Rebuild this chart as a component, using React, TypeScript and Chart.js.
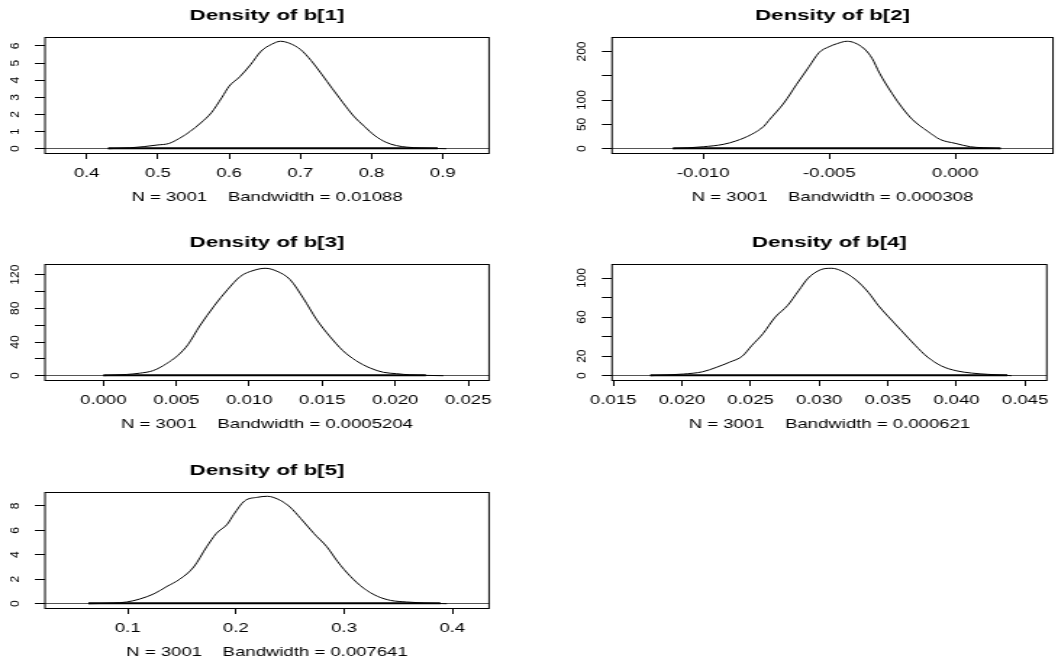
import React, { useEffect, useRef } from 'react';
import { Chart, registerables } from 'chart.js';

Chart.register(...registerables);

// ---------- data ----------
const TITLES = ['Density of b[1]', 'Density of b[2]', 'Density of b[3]', 'Density of b[4]', 'Density of b[5]'];
const XLABELS = [
  'N = 3001    Bandwidth = 0.01088',
  'N = 3001    Bandwidth = 0.000308',
  'N = 3001    Bandwidth = 0.0005204',
  'N = 3001    Bandwidth = 0.000621',
  'N = 3001    Bandwidth = 0.007641',
];

const B1_X = [0.43, 0.46, 0.48, 0.5, 0.515, 0.53, 0.545, 0.56, 0.575, 0.59, 0.6, 0.615, 0.63, 0.645, 0.66, 0.672, 0.685, 0.7, 0.715, 0.73, 0.745, 0.76, 0.775, 0.79, 0.805, 0.82, 0.835, 0.85, 0.87, 0.893, 0.905];
const B1_Y = [0.0, 0.05, 0.12, 0.22, 0.3, 0.6, 1.0, 1.5, 2.1, 3.0, 3.65, 4.2, 4.9, 5.7, 6.1, 6.27, 6.15, 5.8, 5.15, 4.35, 3.5, 2.68, 1.9, 1.3, 0.75, 0.38, 0.18, 0.09, 0.04, 0.01, 0.0];

const B2_X = [-0.0112, -0.01, -0.0092, -0.0087, -0.0081, -0.0076, -0.0074, -0.0068, -0.0063, -0.0058, -0.0054, -0.005, -0.0047, -0.0043, -0.004, -0.0036, -0.0033, -0.003, -0.0025, -0.0021, -0.0017, -0.0011, -0.0006, 0.0, 0.0006, 0.0011, 0.0018];
const B2_Y = [0, 4, 9, 16, 29, 46, 58, 94, 132, 169, 198, 210, 216, 221, 218, 205, 186, 155, 113, 84, 60, 36, 19, 11, 4, 2, 0];

const B3_X = [0.0, 0.0016, 0.0025, 0.0034, 0.0043, 0.0051, 0.0058, 0.0066, 0.0076, 0.0085, 0.0094, 0.0103, 0.0111, 0.0119, 0.0128, 0.0137, 0.0146, 0.0155, 0.0164, 0.0173, 0.0183, 0.0192, 0.0201, 0.021, 0.0221, 0.0233];
const B3_Y = [0, 1.5, 3, 6, 14, 24, 37, 59, 83, 102, 118, 125, 127.5, 124, 114, 92, 67, 47, 30, 18, 9, 4, 2.4, 1, 0.4, 0];

const B4_X = [0.0177, 0.0201, 0.0215, 0.0225, 0.0235, 0.0244, 0.0251, 0.0259, 0.0268, 0.0277, 0.0285, 0.0292, 0.0301, 0.0309, 0.0316, 0.0326, 0.0336, 0.0343, 0.035, 0.036, 0.037, 0.0379, 0.0389, 0.04, 0.0411, 0.0423, 0.0437, 0.044];
const B4_Y = [0, 1.7, 4, 8.5, 14, 20, 31, 43, 60, 72, 87, 100, 108.5, 110, 107.5, 99, 85, 72, 61, 46, 31, 19, 10, 5, 2.7, 1.4, 0.3, 0];

const B5_X = [0.0636, 0.0867, 0.099, 0.111, 0.124, 0.136, 0.148, 0.161, 0.173, 0.182, 0.192, 0.198, 0.208, 0.22, 0.229, 0.241, 0.25, 0.26, 0.272, 0.284, 0.294, 0.306, 0.318, 0.331, 0.343, 0.358, 0.374, 0.395];
const B5_Y = [0, 0.05, 0.14, 0.38, 0.8, 1.4, 2.0, 3.0, 4.66, 5.75, 6.5, 7.3, 8.4, 8.7, 8.78, 8.45, 7.9, 6.96, 5.75, 4.66, 3.44, 2.22, 1.27, 0.6, 0.27, 0.14, 0.05, 0];

// observation range (rug band)
const OBS_RANGES = [[0.43, 0.893], [-0.0112, 0.0018], [0.0, 0.0221], [0.0177, 0.0437], [0.0636, 0.389]];

// axis limits and ticks
const X_LIMITS = [[0.3414, 0.965], [-0.01362, 0.00388], [-0.004, 0.02643], [0.01491, 0.04658], [0.0235, 0.434]];
const X_TICKS = [
  [0.4, 0.5, 0.6, 0.7, 0.8, 0.9],
  [-0.01, -0.005, 0.0],
  [0.0, 0.005, 0.01, 0.015, 0.02, 0.025],
  [0.015, 0.02, 0.025, 0.03, 0.035, 0.04, 0.045],
  [0.1, 0.2, 0.3, 0.4],
];
const X_DECIMALS = [1, 3, 3, 3, 1];
const Y_TICKS = [
  [0, 1, 2, 3, 4, 5, 6],
  [0, 50, 100, 150, 200],
  [0, 20, 40, 60, 80, 100, 120],
  [0, 20, 40, 60, 80, 100],
  [0, 2, 4, 6, 8],
];
const Y_TICK_LABELS = [
  ['0', '1', '2', '3', '4', '5', '6'],
  ['0', '50', '100', '', '200'],
  ['0', '', '40', '', '80', '', '120'],
  ['0', '20', '', '60', '', '100'],
  ['0', '2', '4', '6', '8'],
];

const XS = [B1_X, B2_X, B3_X, B4_X, B5_X];
const YS = [B1_Y, B2_Y, B3_Y, B4_Y, B5_Y];

// ---------- layout ----------
const CSS_W = 529;
const LOG_W = 365;
const H = 210;
const S = CSS_W / LOG_W; // horizontal stretch
const AREA_TOP = 37;
const AREA_BOTTOM = 153;
const FAMILY = '"Liberation Sans", Arial, sans-serif';
const FS = 12.8;
const TITLE_FS = 15.4;

const PANELS = [
  { left: 0, top: 0, areaLeft: 45 / S, areaRight: 489 / S },
  { left: 529, top: 0, areaLeft: 83 / S, areaRight: 524 / S },
  { left: 0, top: 227, areaLeft: 45 / S, areaRight: 489 / S },
  { left: 529, top: 227, areaLeft: 83 / S, areaRight: 524 / S },
  { left: 0, top: 455, areaLeft: 45 / S, areaRight: 489 / S },
];

Chart.defaults.font.family = FAMILY;
Chart.defaults.color = '#000';

function Panel({ i }: { i: number }) {
  const ref = useRef<HTMLCanvasElement>(null);
  useEffect(() => {
    const p = PANELS[i];
    const xs = XS[i];
    const ys = YS[i];
    const peak = Math.max(...ys);
    const [xmin, xmax] = X_LIMITS[i];
    const [omin, omax] = OBS_RANGES[i];
    const yTicks = Y_TICKS[i];
    const yLabels = Y_TICK_LABELS[i];

    const boxPlugin = {
      id: 'rbox' + i,
      afterDraw(chart: any) {
        const { ctx, chartArea: a } = chart;
        const ys2 = chart.scales.y;
        ctx.save();
        ctx.strokeStyle = '#000';
        ctx.lineWidth = 1;
        const t = Math.round(a.top) + 0.5;
        const b = Math.round(a.bottom) + 0.5;
        ctx.strokeRect(a.left, t, a.right - a.left, b - t);
        ctx.fillStyle = '#000';
        ctx.font = '12px ' + FAMILY;
        ctx.textAlign = 'center';
        ctx.textBaseline = 'middle';
        yTicks.forEach((v, k) => {
          const txt = yLabels[k];
          if (!txt) return;
          const py = ys2.getPixelForValue(v);
          ctx.save();
          ctx.translate(a.left - 30 / S, py);
          ctx.scale(1 / S, 1);
          ctx.rotate(-Math.PI / 2);
          ctx.fillText(txt, 0, 0);
          ctx.restore();
        });
        ctx.restore();
      },
    };

    const chart = new Chart(ref.current as HTMLCanvasElement, {
      type: 'line',
      data: {
        datasets: [
          {
            data: xs.map((x, k) => ({ x, y: ys[k] })),
            borderColor: '#000',
            borderWidth: 1,
            pointRadius: 0,
            cubicInterpolationMode: 'monotone',
            fill: false,
          },
          {
            data: [{ x: omin, y: peak * 0.005 }, { x: omax, y: peak * 0.005 }],
            borderColor: '#000',
            borderWidth: 2,
            pointRadius: 0,
            fill: false,
          },
        ],
      },
      options: {
        animation: false,
        responsive: false,
        devicePixelRatio: 1,
        events: [],
        layout: { padding: { left: 0, top: 0, bottom: 0, right: LOG_W - p.areaRight } },
        plugins: { legend: { display: false }, tooltip: { enabled: false }, title: { display: false } },
        scales: {
          x: {
            type: 'linear',
            position: 'bottom',
            min: xmin,
            max: xmax,
            afterBuildTicks: (s: any) => {
              s.ticks = X_TICKS[i].map((v) => ({ value: v }));
            },
            afterFit: (s: any) => {
              s.height = H - AREA_BOTTOM;
            },
            ticks: {
              autoSkip: false,
              maxRotation: 0,
              minRotation: 0,
              padding: 6.3,
              color: '#000',
              font: { size: FS, family: FAMILY },
              callback: (v: any) => Number(v).toFixed(X_DECIMALS[i]),
            },
            grid: { drawOnChartArea: false, drawTicks: true, tickLength: 6, tickColor: '#000', color: '#000' },
            border: { display: false },
            title: {
              display: true,
              text: XLABELS[i],
              color: '#000',
              font: { size: FS, family: FAMILY },
              padding: { top: 0, bottom: 4.8 },
            },
          },
          x2: {
            type: 'linear',
            position: 'top',
            min: xmin,
            max: xmax,
            afterFit: (s: any) => {
              s.height = AREA_TOP;
            },
            ticks: { display: false },
            grid: { display: false },
            border: { display: false },
            title: {
              display: true,
              text: TITLES[i],
              color: '#000',
              font: { size: TITLE_FS, weight: 'bold', family: FAMILY },
              padding: { top: 6.5, bottom: 0 },
            },
          },
          y: {
            type: 'linear',
            position: 'left',
            min: -0.04 * peak,
            max: 1.04 * peak,
            afterBuildTicks: (s: any) => {
              s.ticks = yTicks.map((v) => ({ value: v }));
            },
            afterFit: (s: any) => {
              s.width = p.areaLeft;
            },
            ticks: { display: false },
            grid: {
              color: (c: any) => (c.tick && c.tick.value === 0 ? '#555' : 'rgba(0,0,0,0)'),
              tickColor: '#000',
              tickLength: 7,
              drawTicks: true,
            },
            border: { display: false },
          },
        },
      } as any,
      plugins: [boxPlugin],
    });
    return () => chart.destroy();
  }, [i]);

  const p = PANELS[i];
  return (
    <canvas
      ref={ref}
      width={LOG_W}
      height={H}
      style={{ position: 'absolute', left: p.left, top: p.top, width: CSS_W + 'px', height: H + 'px' }}
    />
  );
}

export default function App() {
  return (
    <div style={{ position: 'absolute', left: 0, top: 0, width: 1058, height: 665, background: '#fff', overflow: 'hidden' }}>
      {PANELS.map((_, i) => (
        <Panel key={i} i={i} />
      ))}
    </div>
  );
}
